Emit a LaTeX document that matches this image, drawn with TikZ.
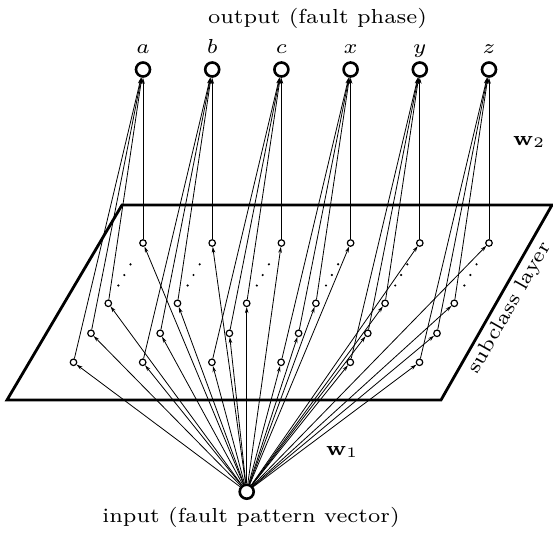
\documentclass[tikz,border=0pt]{standalone}
\usetikzlibrary{arrows.meta,backgrounds}
\newlength\titlew
\newcommand{\lbl}[1]{\scalebox{\txtx}[\txty]{\fontsize{7}{8}\selectfont #1}}
\begin{document}
\settowidth\titlew{\fontsize{7}{8}\selectfont output (fault phase)}
\pgfmathsetmacro\txtx{219/\titlew}
\pgfmathsetmacro\txty{2.9}
\begin{tikzpicture}[x=1pt,y=-1pt,
  txt/.style={inner sep=0pt},
  bignode/.style={circle,draw,line width=2.6pt,minimum size=14pt,inner sep=0pt,fill=white},
  subnode/.style={circle,draw,line width=1.2pt,minimum size=6.5pt,inner sep=0pt,fill=white},
  conn/.style={line width=0.8pt,-{Stealth[length=6pt,width=3.6pt]}},
  plane/.style={line width=2.8pt,line join=miter},
  dotty/.style={circle,fill,inner sep=0pt,minimum size=2.4pt}]
\useasboundingbox (0,0) rectangle (553,533);
\node[bignode] (in) at (246.7,491.7) {};
\foreach \i/\l in {0/a,1/b,2/c,3/x,4/y,5/z}{
  \pgfmathsetmacro{\xx}{143+69.2*\i}
  \node[bignode] (o\i) at (\xx,69.5) {};
  \node[txt,anchor=base] (lab\i) at (\xx,53) {\lbl{$\l$}};
  \node[subnode] (s\i-0) at (\xx,243) {};
  \node[subnode] (s\i-1) at (\xx-34.7,303.3) {};
  \node[subnode] (s\i-2) at (\xx-52,333.3) {};
  \node[subnode] (s\i-3) at (\xx-69.5,362.3) {};
  \node[dotty] (dt\i-1) at (\xx-12.5,264.3) {};
  \node[dotty] (dt\i-2) at (\xx-18.7,275) {};
  \node[dotty] (dt\i-3) at (\xx-24.6,285.5) {};
}
\begin{pgfonlayer}{background}
\draw[plane] (122,205) -- (552,205) -- (441,400) -- (7,400) -- cycle;
\foreach \i in {0,...,5}{
  \foreach \j in {0,...,3}{
    \draw[conn] (in) -- (s\i-\j);
    \draw[conn] (s\i-\j) -- (o\i);
  }
}
\end{pgfonlayer}
\node[txt,anchor=base] (title) at (317.5,23) {\lbl{output (fault phase)}};
\node[txt,anchor=base] (intext) at (251,522) {\lbl{input (fault pattern vector)}};
\node[txt,anchor=base west] (w2) at (513,145) {\lbl{$\mathbf{w}_2$}};
\node[txt,anchor=base west] (w1) at (326,455) {\lbl{$\mathbf{w}_1$}};
\node[txt,rotate=60.35] (layer) at (510,308) {\lbl{subclass layer}};
\end{tikzpicture}
\end{document}
